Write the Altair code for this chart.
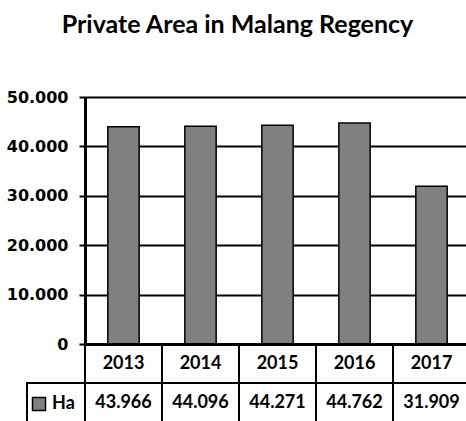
import altair as alt
import pandas as pd

# ---- data ----
years = ["2013", "2014", "2015", "2016", "2017"]
area_ha = [43966, 44096, 44271, 44762, 31909]
series_name = "Ha"
y_ticks = [0, 10000, 20000, 30000, 40000, 50000]
table_rows = ["Year", "Ha"]
title_text = "Private Area in Malang Regency"


def dotted(v):
    return f"{v:,}".replace(",", ".")


bars_df = pd.DataFrame({"year": years, "value": area_ha, "series": series_name})
table_df = pd.DataFrame({
    "year": years + years,
    "row": ["Year"] * len(years) + ["Ha"] * len(years),
    "label": years + [dotted(v) for v in area_ha],
})
ha_cell_df = pd.DataFrame({"row": ["Ha"]})

TABLE_FONT = "Lato"

# ---- bars ----
bars = alt.Chart(bars_df).mark_bar(stroke="black", strokeWidth=1.5).encode(
    x=alt.X("year:N", sort=years, axis=None,
            scale=alt.Scale(paddingInner=0.593, paddingOuter=0.2965, range=[0, 385])),
    y=alt.Y("value:Q",
            scale=alt.Scale(domain=[0, 50000], nice=False),
            axis=alt.Axis(
                values=y_ticks, title=None,
                labelExpr="replace(format(datum.value, ','), ',', '.')",
                labelFont="DejaVu Sans", labelFontWeight="bold", labelFontSize=16,
                labelColor="black", labelPadding=11,
                tickColor="black", tickWidth=2, tickSize=6,
                domainColor="black", domainWidth=3,
                grid=True, gridColor="black", gridOpacity=1,
                gridWidth={"condition": {"test": "datum.value === 0", "value": 3}, "value": 2},
            )),
    color=alt.Color("series:N", scale=alt.Scale(range=["#808080"]),
                    legend=alt.Legend(
                        orient="none", legendX=-55, legendY=298, title=None,
                        symbolType="square", symbolSize=169,
                        symbolStrokeColor="black", symbolStrokeWidth=1.5,
                        labelFont=TABLE_FONT, labelFontSize=18, labelFontWeight="bold",
                        labelColor="black", labelOffset=4)),
)

# ---- data table under the plot ----
tx = alt.X("year:N", sort=years, axis=None,
           scale=alt.Scale(paddingInner=0, paddingOuter=0, range=[0, 385]))
ty = alt.Y("row:N", sort=table_rows, axis=None,
           scale=alt.Scale(domain=table_rows, paddingInner=0, paddingOuter=0, range=[247, 325]))

cells = alt.Chart(table_df).mark_rect(fill="transparent", stroke="black", strokeWidth=2).encode(
    x=tx, y=ty)
texts = alt.Chart(table_df).mark_text(
    font=TABLE_FONT, fontSize=18, fontWeight="bold", color="black",
    align="center", baseline="middle").encode(x=tx, y=ty, text="label:N")
ha_cell = alt.Chart(ha_cell_df).mark_rect(fill="transparent", stroke="black", strokeWidth=2).encode(
    x=alt.value(-58), x2=alt.value(0), y=ty)

table = alt.layer(cells, ha_cell, texts)

chart = alt.layer(bars, table).resolve_scale(x="independent", y="independent").properties(
    width=381, height=247,
    title=alt.TitleParams(title_text, font=TABLE_FONT, fontSize=25, fontWeight="bold",
                          color="black", anchor="middle", frame="group", dx=-38,
                          offset=31, baseline="alphabetic"),
    autosize=alt.AutoSizeParams(type="none"),
    padding={"left": 85, "top": 97, "right": 0, "bottom": 77},
    background="white",
).configure_view(strokeWidth=0)

chart.save("out.html", embed_options={"renderer": "svg", "actions": False})
